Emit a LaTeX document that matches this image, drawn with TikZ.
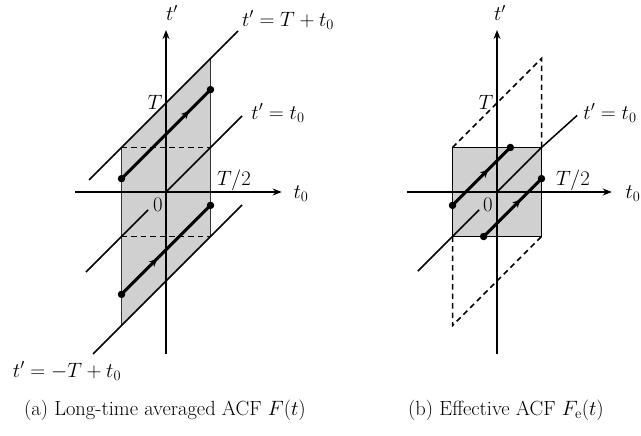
\documentclass[tikz,border=0pt]{standalone}
\usetikzlibrary{arrows.meta,decorations.markings}
\definecolor{regfill}{RGB}{208,208,208}
\tikzset{
  lbl/.style={font=\fontsize{20.5}{24}\selectfont, inner sep=0pt},
  captxt/.style={font=\fontsize{20.5}{24}\selectfont, inner sep=0pt},
  axis/.style={line width=1.5pt, -{Stealth[length=9pt,width=7pt]}},
  guide/.style={line width=1.5pt},
  edge/.style={line width=1.6pt, black!80},
  dashline/.style={line width=1.5pt, dash pattern=on 5.5pt off 4pt},
  heavy/.style={line width=3pt},
  midarrow/.style={postaction={decorate}, decoration={markings, mark=at position #1 with {\arrow{Stealth[length=8pt,width=7.5pt]}}}},
  dot/.style={circle, fill=black, inner sep=0pt, minimum size=7.5pt}
}
\begin{document}
\begin{tikzpicture}[x=1pt,y=-1pt]
\useasboundingbox (0,0) rectangle (641,436);
% ---------------- panel (a)
\begin{scope}[shift={(166,192)}, x={(89pt,0pt)}, y={(0pt,89pt)}]
  \coordinate (aO) at (0,0);
  \coordinate (aP1) at (-0.5,0.5);
  \coordinate (aP2) at (0.5,1.5);
  \coordinate (aP3) at (0.5,-0.5);
  \coordinate (aP4) at (-0.5,-1.5);
  \coordinate (aM1) at (0.5,0.5);
  \coordinate (aM2) at (-0.5,-0.5);
  \fill[regfill] (aP1) -- (aP2) -- (aP3) -- (aP4) -- cycle;
  \draw[edge] (aP2) -- (aP3);
  \draw[edge] (aP1) -- (aP4);
  \draw[dashline] (aP1) -- (aM1);
  \draw[dashline] (aM2) -- (aP3);
  \coordinate (aXl) at (-1.02,0);
  \coordinate (aXr) at (1.30,0);
  \coordinate (aYb) at (0,-1.82);
  \coordinate (aYt) at (0,1.82);
  \draw[axis] (aXl) -- (aXr);
  \draw[axis] (aYb) -- (aYt);
  % t' = T + t0
  \coordinate (aU1) at (-0.865,0.135);
  \coordinate (aU2) at (0.81,1.81);
  \draw[guide] (aU1) -- (aU2);
  % t' = t0
  \coordinate (aD1) at (-0.9,-0.9);
  \coordinate (aD2) at (-0.2,-0.2);
  \coordinate (aD3) at (0.855,0.855);
  \draw[guide] (aD1) -- (aD2);
  \draw[guide] (aO) -- (aD3);
  % t' = -T + t0
  \coordinate (aL1) at (-0.82,-1.82);
  \coordinate (aL2) at (0.855,-0.145);
  \draw[guide] (aL1) -- (aL2);
  % heavy lines
  \coordinate (aH1) at (-0.5,0.15);
  \coordinate (aH2) at (0.5,1.15);
  \coordinate (aK1) at (-0.5,-1.15);
  \coordinate (aK2) at (0.5,-0.15);
  \draw[heavy, midarrow=0.76] (aH1) -- (aH2);
  \draw[heavy, midarrow=0.40] (aK1) -- (aK2);
  \node[dot] (ad1) at (aH1) {};
  \node[dot] (ad2) at (aH2) {};
  \node[dot] (ad3) at (aK1) {};
  \node[dot] (ad4) at (aK2) {};
\end{scope}
\node[lbl] (atp) at (172,13) {$t'$};
\node[lbl] (aeq1) at (288,20) {$t'=T+t_0$};
\node[lbl] (aT) at (155,102) {$T$};
\node[lbl] (aeq2) at (278,113) {$t'=t_0$};
\node[lbl] (aT2) at (234,180) {$T/2$};
\node[lbl] (at0) at (301,194) {$t_0$};
\node[lbl] (a0) at (158,205) {$0$};
\node[lbl] (aeq3) at (67,371) {$t'=-T+t_0$};
\node[captxt] (acap) at (165,410) {(a) Long-time averaged ACF $F(t)$};
% ---------------- panel (b)
\begin{scope}[shift={(497,192)}, x={(89pt,0pt)}, y={(0pt,89pt)}]
  \coordinate (bO) at (0,0);
  \coordinate (bS1) at (-0.5,0.5);
  \coordinate (bS2) at (0.5,0.5);
  \coordinate (bS3) at (0.5,-0.5);
  \coordinate (bS4) at (-0.5,-0.5);
  \coordinate (bQ1) at (0.5,1.5);
  \coordinate (bQ2) at (-0.5,-1.5);
  \fill[regfill] (bS1) -- (bS2) -- (bS3) -- (bS4) -- cycle;
  \draw[dashline] (bS1) -- (bQ1) -- (bS2);
  \draw[dashline] (bS4) -- (bQ2) -- (bS3);
  \coordinate (bXl) at (-1.01,0);
  \coordinate (bXr) at (1.29,0);
  \coordinate (bYb) at (0,-1.82);
  \coordinate (bYt) at (0,1.82);
  \draw[axis] (bXl) -- (bXr);
  \draw[axis] (bYb) -- (bYt);
  \draw[guide] (bS1) -- (bS2) -- (bS3) -- (bS4) -- cycle;
  % t' = t0
  \coordinate (bD1) at (-0.89,-0.89);
  \coordinate (bD2) at (-0.2,-0.2);
  \coordinate (bD3) at (0.9,0.86);
  \draw[guide] (bD1) -- (bD2);
  \draw[guide] (bO) -- (bS2) -- (bD3);
  % heavy lines
  \coordinate (bH1) at (-0.5,-0.15);
  \coordinate (bH2) at (0.15,0.5);
  \coordinate (bK1) at (-0.15,-0.5);
  \coordinate (bK2) at (0.5,0.15);
  \draw[heavy, midarrow=0.62] (bH1) -- (bH2);
  \draw[heavy, midarrow=0.64] (bK1) -- (bK2);
  \node[dot] (bd1) at (bH1) {};
  \node[dot] (bd2) at (bH2) {};
  \node[dot] (bd3) at (bK1) {};
  \node[dot] (bd4) at (bK2) {};
\end{scope}
\node[lbl] (btp) at (500,13) {$t'$};
\node[lbl] (bT) at (486,102) {$T$};
\node[lbl] (beq2) at (610,113) {$t'=t_0$};
\node[lbl] (bT2) at (573,180) {$T/2$};
\node[lbl] (bt0) at (633,194) {$t_0$};
\node[lbl] (b0) at (488,205) {$0$};
\node[captxt] (bcap) at (506,410) {(b) Effective ACF $F_{\mathrm{e}}(t)$};
\end{tikzpicture}
\end{document}
